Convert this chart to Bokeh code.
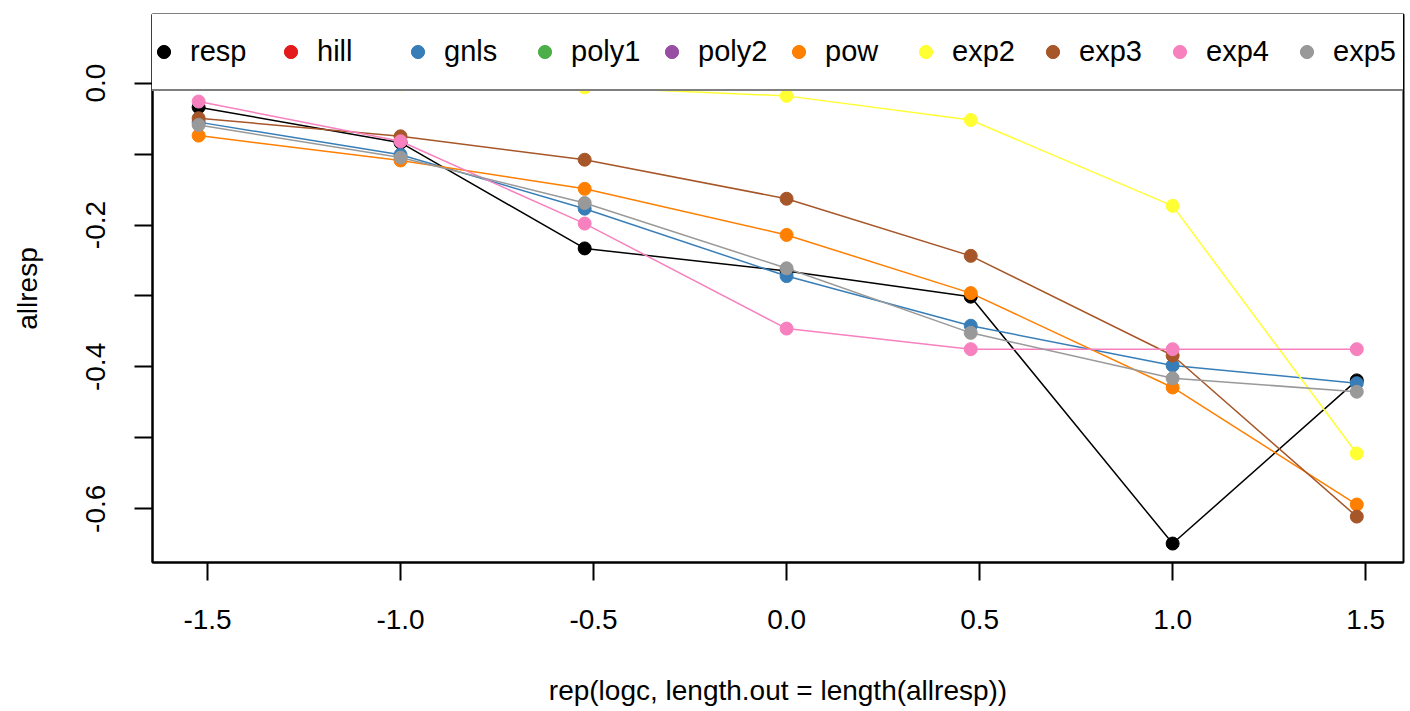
from bokeh.plotting import figure
from bokeh.models import Range1d, FixedTicker, Legend, LegendItem, PrintfTickFormatter
from bokeh.embed import file_html
from bokeh.resources import INLINE

NA = float("nan")

# x positions (log concentration)
logc = [-1.523, -1.0, -0.523, 0.0, 0.477, 1.0, 1.477]

# series values (NA: series not visible in the picture)
resp = [-0.034, -0.084, -0.233, -0.265, -0.301, -0.649, -0.419]
hill = [NA, NA, NA, NA, NA, NA, NA]
gnls = [-0.055, -0.101, -0.177, -0.272, -0.342, -0.398, -0.423]
poly1 = [NA, NA, NA, NA, NA, NA, NA]
poly2 = [NA, NA, NA, NA, NA, NA, NA]
pow_ = [-0.074, -0.109, -0.149, -0.214, -0.296, -0.429, -0.594]
exp2 = [-0.0005, -0.0017, -0.006, -0.018, -0.052, -0.173, -0.522]
exp3 = [-0.0495, -0.075, -0.108, -0.163, -0.2435, -0.384, -0.611]
exp4 = [-0.026, -0.082, -0.198, -0.346, -0.375, -0.375, -0.375]
exp5 = [-0.059, -0.105, -0.169, -0.261, -0.352, -0.416, -0.435]

names = ["resp", "hill", "gnls", "poly1", "poly2", "pow", "exp2", "exp3", "exp4", "exp5"]
series = [resp, hill, gnls, poly1, poly2, pow_, exp2, exp3, exp4, exp5]
colors = ["#000000", "#E41A1C", "#377EB8", "#4DAF4A", "#984EA3",
          "#FF7F00", "#FFFF33", "#A65628", "#F781BF", "#999999"]

x_ticks = [-1.5, -1.0, -0.5, 0.0, 0.5, 1.0, 1.5]
y_ticks = [-0.6, -0.5, -0.4, -0.3, -0.2, -0.1, 0.0]
y_labels = ["-0.6", "", "-0.4", "", "-0.2", "", "0.0"]

FONT = "Liberation Sans"

p = figure(width=1408, height=708, output_backend="svg", toolbar_location=None,
           x_range=Range1d(-1.6425, 1.598), y_range=Range1d(-0.6757, 0.0967),
           min_border_left=152, min_border_right=5, min_border_top=14, min_border_bottom=143,
           background_fill_color="white", border_fill_color="white")
p.grid.visible = False
p.outline_line_color = "black"
p.outline_line_width = 2

p.xaxis.ticker = FixedTicker(ticks=x_ticks)
p.xaxis.formatter = PrintfTickFormatter(format="%.1f")
p.yaxis.ticker = FixedTicker(ticks=y_ticks)
p.yaxis.major_label_overrides = {t: l for t, l in zip(y_ticks, y_labels)}
p.yaxis.major_label_orientation = "vertical"

for ax in (p.xaxis, p.yaxis):
    ax.axis_line_color = "black"
    ax.axis_line_width = 2
    ax.major_tick_line_color = "black"
    ax.major_tick_line_width = 2
    ax.major_tick_out = 18
    ax.major_tick_in = 0
    ax.minor_tick_line_color = None
    ax.major_label_text_font = FONT
    ax.major_label_text_font_size = "28px"
    ax.major_label_text_color = "black"
    ax.axis_label_text_font = FONT
    ax.axis_label_text_font_size = "28px"
    ax.axis_label_text_font_style = "normal"
    ax.axis_label_text_color = "black"

p.xaxis.axis_label = "rep(logc, length.out = length(allresp))"
p.yaxis.axis_label = "allresp"
p.xaxis.major_label_standoff = 29
p.yaxis.major_label_standoff = 29
p.xaxis.axis_label_standoff = 43
p.yaxis.axis_label_standoff = 41

items = []
for name, ys, c in zip(names, series, colors):
    p.line(logc, ys, line_color=c, line_width=1.5)
    r = p.scatter(logc, ys, size=13, fill_color=c, line_color=c, marker="circle")
    items.append(LegendItem(label=name, renderers=[r]))

legend = Legend(items=items, orientation="horizontal", location=(-27, 471),
                glyph_width=33, glyph_height=35, label_height=35, label_width=84,
                label_standoff=10, spacing=0, padding=20, margin=0,
                label_text_font=FONT, label_text_font_size="29px", label_text_color="black",
                border_line_color="black", border_line_width=2,
                background_fill_color="white", background_fill_alpha=1.0)
p.add_layout(legend, "center")

open("out.html", "w").write(file_html(p, INLINE))
